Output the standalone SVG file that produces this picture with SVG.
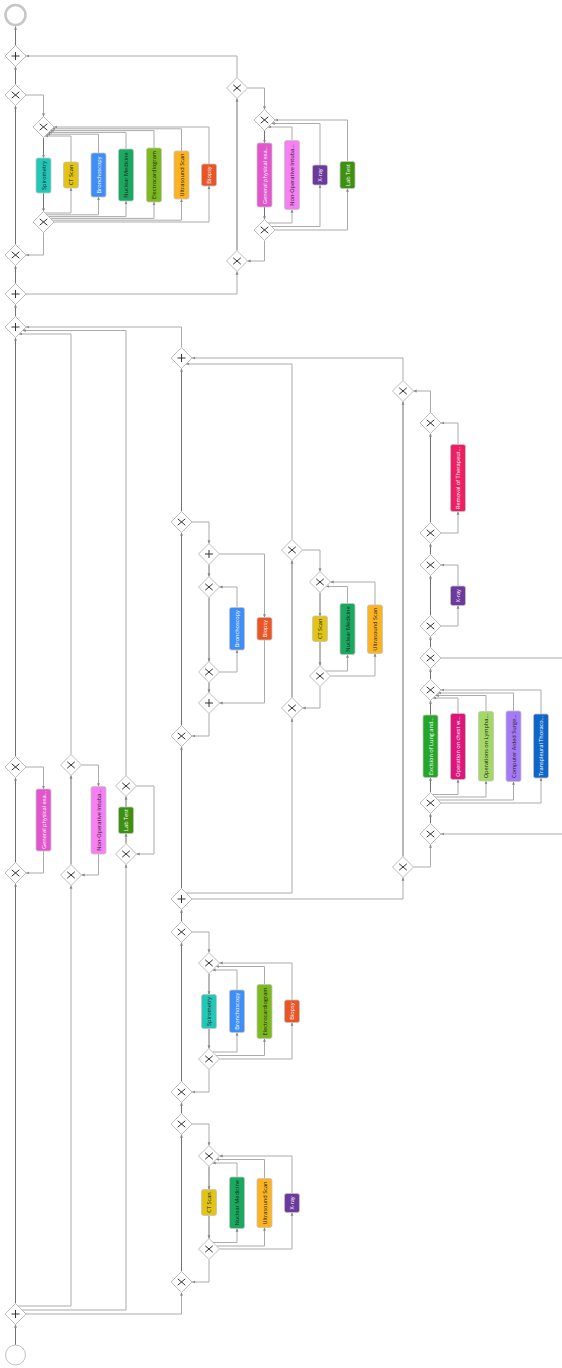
<svg xmlns="http://www.w3.org/2000/svg" xmlns:xlink="http://www.w3.org/1999/xlink" width="562" height="1368" viewBox="0 0 562 1368">
<style>
.f{fill:none;stroke:#727272;stroke-width:1;marker-end:url(#ar)}
.fl{fill:none;stroke:#ababab;stroke-width:1;marker-end:url(#ar)}
.fo{fill:none;stroke:#ababab;stroke-width:1}
.gd{fill:#fff;stroke:#bdbdbd;stroke-width:1}
.gm{fill:none;stroke:#333333;stroke-width:1}
.tk{stroke:#c4c4c4;stroke-width:0.8}
.lb{font-family:"Open Sans","Liberation Sans",sans-serif;font-size:5.6px;text-anchor:middle;dominant-baseline:central}
.w{fill:#ffffff}
.d{fill:#222222}
</style>
<defs>
<marker id="ar" viewBox="0 0 6 6" refX="5.5" refY="3" markerWidth="3.5" markerHeight="3.5" orient="auto" markerUnits="userSpaceOnUse"><path d="M0,0.5 L6,3 L0,5.5 z" fill="#8a8a8a"/></marker>
<g id="gx"><polygon class="gd" points="0,-10.5 10.5,0 0,10.5 -10.5,0"/><path class="gm" d="M-3.8,-3.2 L3.8,3.2 M3.8,-3.2 L-3.8,3.2"/></g>
<g id="gp"><polygon class="gd" points="0,-10.5 10.5,0 0,10.5 -10.5,0"/><path class="gm" d="M0,-4 V4 M-4,0 H4" stroke-width="1.2"/></g>
</defs>
<rect width="562" height="1368" fill="#fff"/>
<g id="connectors">
<path class="f" d="M15.5,1345 V1324.5"/>
<path class="f" d="M15.5,1303.5 V883.5"/>
<path class="f" d="M15.5,862.5 V777.5"/>
<path class="f" d="M15.5,756.5 V337.5"/>
<path class="f" d="M15.5,316.5 V304.5"/>
<path class="f" d="M15.5,283.5 V265.5"/>
<path class="f" d="M15.5,244.5 V105.5"/>
<path class="f" d="M15.5,84.5 V66.5"/>
<path class="f" d="M15.5,45.5 V26.5"/>
<path class="fl" d="M26,767 H43.5 V789"/>
<path class="fl" d="M43.5,851 V873 H26"/>
<path class="fl" d="M18,1306 H71 V885.5"/>
<path class="fl" d="M22,1310 H126 V864.5"/>
<path class="fl" d="M26,1314 H181.5 V1292.5"/>
<path class="f" d="M71,864.5 V775.5"/>
<path class="fl" d="M81.5,765 H98.5 V786.5"/>
<path class="fl" d="M98.5,854 V875 H81.5"/>
<path class="fl" d="M71,754.5 V334 H19"/>
<path class="f" d="M126,843.5 V833.5"/>
<path class="f" d="M126,807 V796.5"/>
<path class="fl" d="M136.5,786 H154 V854 H136.5"/>
<path class="fl" d="M126,775.5 V330.5 H22.5"/>
<path class="fl" d="M26,95 H43.5 V116.5"/>
<path class="f" d="M43.5,137.5 V158"/>
<path class="f" d="M43.5,193 V211.5"/>
<path class="fl" d="M43.5,232.5 V255 H26"/>
<path class="fl" d="M45,213 H71 V188"/><path class="fl" d="M71,162 V136 H45"/>
<path class="fl" d="M46.8,214.8 H98.5 V197"/><path class="fl" d="M98.5,153 V134.2 H46.8"/>
<path class="fl" d="M48.6,216.6 H126 V201"/><path class="fl" d="M126,149 V132.4 H48.6"/>
<path class="fl" d="M50.4,218.4 H154 V202"/><path class="fl" d="M154,148 V130.6 H50.4"/>
<path class="fl" d="M52.2,220.2 H181.5 V199"/><path class="fl" d="M181.5,151 V128.8 H52.2"/>
<path class="fl" d="M54,222 H209 V186"/><path class="fl" d="M209,164 V127 H54"/>
<path class="fl" d="M26,294 H237 V271.5"/>
<path class="f" d="M237,250.5 V98.5"/>
<path class="fl" d="M237,77.5 V56 H26"/>
<path class="fl" d="M247.5,88 H264.5 V109.5"/>
<path class="f" d="M264.5,130.5 V143"/>
<path class="f" d="M264.5,207 V219.5"/>
<path class="fl" d="M264.5,240.5 V261 H247.5"/>
<path class="fl" d="M268,223 H292 V209.5"/><path class="fl" d="M292,140.5 V127 H268"/>
<path class="fl" d="M271.5,226.5 H320 V185"/><path class="fl" d="M320,165 V123.5 H271.5"/>
<path class="fl" d="M275,230 H347.5 V188.5"/><path class="fl" d="M347.5,161.5 V120 H275"/>
<path class="fl" d="M181.5,347.5 V327 H26"/>
<path class="f" d="M181.5,511.5 V368.5"/>
<path class="f" d="M181.5,725.5 V532.5"/>
<path class="f" d="M181.5,888.5 V746.5"/>
<path class="f" d="M181.5,921.5 V909.5"/>
<path class="f" d="M181.5,1081.5 V942.5"/>
<path class="f" d="M181.5,1113.5 V1102.5"/>
<path class="f" d="M181.5,1271.5 V1134.5"/>
<path class="fl" d="M192,522 H209 V543.5"/>
<path class="f" d="M209,564.5 V576.5"/>
<path class="f" d="M209,597.5 V661.5"/>
<path class="f" d="M209,682.5 V692.5"/>
<path class="fl" d="M209,713.5 V736 H192"/>
<path class="fl" d="M219.5,672 H237 V650"/>
<path class="fl" d="M237,607.5 V587 H219.5"/>
<path class="fl" d="M219.5,554 H264.5 V617.5"/>
<path class="fl" d="M264.5,640 V703 H219.5"/>
<path class="fl" d="M186,893 H292 V718.5"/>
<path class="f" d="M292,697.5 V560.5"/>
<path class="fl" d="M292,539.5 V364 H186"/>
<path class="fl" d="M302.5,550 H320 V571.5"/>
<path class="f" d="M320,592.5 V616"/>
<path class="f" d="M320,641.5 V665.5"/>
<path class="fl" d="M320,686.5 V708 H302.5"/>
<path class="fl" d="M325.5,671 H347.5 V654.5"/><path class="fl" d="M347.5,603.5 V586.5 H326"/>
<path class="fl" d="M330.5,676 H375 V653.5"/><path class="fl" d="M375,605 V582 H330.5"/>
<path class="fl" d="M192,899 H403 V877.5"/>
<path class="f" d="M403,856.5 V401.5"/>
<path class="fl" d="M403,380.5 V358 H192"/>
<path class="fl" d="M413.5,867 H430.5 V844.5"/>
<path class="f" d="M430.5,823.5 V813.5"/>
<path class="f" d="M430.5,792.5 V777.5"/>
<path class="f" d="M430.5,715 V700.5"/>
<path class="f" d="M430.5,679.5 V668.5"/>
<path class="fo" d="M441,658 H562"/>
<path class="fl" d="M562,834 H441"/>
<path class="f" d="M430.5,647.5 V636.5"/>
<path class="f" d="M430.5,615.5 V575.5"/>
<path class="fl" d="M441,626 H458 V605.5"/>
<path class="fl" d="M458,586 V565 H441"/>
<path class="f" d="M430.5,554.5 V543.5"/>
<path class="f" d="M430.5,522.5 V433.5"/>
<path class="fl" d="M441,533 H458 V511.5"/>
<path class="fl" d="M458,444.5 V423 H441"/>
<path class="fl" d="M430.5,412.5 V391 H413.5"/>
<path class="fl" d="M432.5,794.5 H458 V779.5"/><path class="fl" d="M458,713.5 V698 H433"/>
<path class="fl" d="M435,797 H486 V781"/><path class="fl" d="M486,711.5 V695.5 H435.5"/>
<path class="fl" d="M438,800 H513.5 V781.5"/><path class="fl" d="M513.5,711 V693 H438"/>
<path class="fl" d="M441,803 H541 V778"/><path class="fl" d="M541,714 V690 H441"/>
<path class="fl" d="M192,932 H209 V952.5"/>
<path class="f" d="M209,973.5 V994.5"/>
<path class="f" d="M209,1028.5 V1048.5"/>
<path class="fl" d="M209,1069.5 V1092 H192"/>
<path class="fl" d="M212.5,1052 H237 V1032.5"/><path class="fl" d="M237,990 V970 H212.5"/>
<path class="fl" d="M216,1055.5 H264.5 V1038.5"/><path class="fl" d="M264.5,984.5 V966.5 H216"/>
<path class="fl" d="M219.5,1059 H292 V1022.5"/><path class="fl" d="M292,1000 V963 H219.5"/>
<path class="fl" d="M192,1124 H209 V1145.5"/>
<path class="f" d="M209,1166.5 V1189.5"/>
<path class="f" d="M209,1215.5 V1238.5"/>
<path class="fl" d="M209,1259.5 V1282 H192"/>
<path class="fl" d="M213,1242.5 H237 V1228.5"/><path class="fl" d="M237,1177 V1163 H212.5"/>
<path class="fl" d="M216.5,1246 H264.5 V1227.5"/><path class="fl" d="M264.5,1178.5 V1159.5 H216"/>
<path class="fl" d="M219.5,1249 H292 V1212.5"/><path class="fl" d="M292,1193.5 V1156 H219.5"/>
</g>
<g id="end"><circle cx="15.5" cy="15" r="10" fill="#fff" stroke="#c6c6c6" stroke-width="2.6"/></g>
<g id="start"><circle cx="15.5" cy="1355" r="10" fill="#fff" stroke="#c0c0c0" stroke-width="1"/></g>
<g id="P1"><use xlink:href="#gp" x="15.5" y="56"/></g>
<g id="X1"><use xlink:href="#gx" x="15.5" y="95"/></g>
<g id="X2"><use xlink:href="#gx" x="15.5" y="255"/></g>
<g id="P2"><use xlink:href="#gp" x="15.5" y="294"/></g>
<g id="P3"><use xlink:href="#gp" x="15.5" y="327"/></g>
<g id="X3"><use xlink:href="#gx" x="15.5" y="767"/></g>
<g id="X4"><use xlink:href="#gx" x="15.5" y="873"/></g>
<g id="P4"><use xlink:href="#gp" x="15.5" y="1314"/></g>
<g id="X5"><use xlink:href="#gx" x="43.5" y="127"/></g>
<g id="X6"><use xlink:href="#gx" x="43.5" y="222"/></g>
<g id="X7"><use xlink:href="#gx" x="237" y="261"/></g>
<g id="X8"><use xlink:href="#gx" x="237" y="88"/></g>
<g id="X9"><use xlink:href="#gx" x="264.5" y="120"/></g>
<g id="X10"><use xlink:href="#gx" x="264.5" y="230"/></g>
<g id="X11"><use xlink:href="#gx" x="71" y="765"/></g>
<g id="X12"><use xlink:href="#gx" x="71" y="875"/></g>
<g id="X13"><use xlink:href="#gx" x="126" y="786"/></g>
<g id="X14"><use xlink:href="#gx" x="126" y="854"/></g>
<g id="P5"><use xlink:href="#gp" x="181.5" y="358"/></g>
<g id="X15"><use xlink:href="#gx" x="181.5" y="522"/></g>
<g id="X16"><use xlink:href="#gx" x="181.5" y="736"/></g>
<g id="P6"><use xlink:href="#gp" x="181.5" y="899"/></g>
<g id="X17"><use xlink:href="#gx" x="181.5" y="932"/></g>
<g id="X18"><use xlink:href="#gx" x="181.5" y="1092"/></g>
<g id="X19"><use xlink:href="#gx" x="181.5" y="1124"/></g>
<g id="X20"><use xlink:href="#gx" x="181.5" y="1282"/></g>
<g id="P7"><use xlink:href="#gp" x="209" y="554"/></g>
<g id="X25"><use xlink:href="#gx" x="209" y="587"/></g>
<g id="X26"><use xlink:href="#gx" x="209" y="672"/></g>
<g id="P8"><use xlink:href="#gp" x="209" y="703"/></g>
<g id="X27"><use xlink:href="#gx" x="292" y="550"/></g>
<g id="X28"><use xlink:href="#gx" x="292" y="708"/></g>
<g id="X29"><use xlink:href="#gx" x="320" y="582"/></g>
<g id="X30"><use xlink:href="#gx" x="320" y="676"/></g>
<g id="X32"><use xlink:href="#gx" x="403" y="391"/></g>
<g id="X31"><use xlink:href="#gx" x="403" y="867"/></g>
<g id="X33"><use xlink:href="#gx" x="430.5" y="834"/></g>
<g id="X34"><use xlink:href="#gx" x="430.5" y="803"/></g>
<g id="X35"><use xlink:href="#gx" x="430.5" y="690"/></g>
<g id="X36"><use xlink:href="#gx" x="430.5" y="658"/></g>
<g id="X37"><use xlink:href="#gx" x="430.5" y="626"/></g>
<g id="X38"><use xlink:href="#gx" x="430.5" y="565"/></g>
<g id="X39"><use xlink:href="#gx" x="430.5" y="533"/></g>
<g id="X40"><use xlink:href="#gx" x="430.5" y="423"/></g>
<g id="X23"><use xlink:href="#gx" x="209" y="963"/></g>
<g id="X24"><use xlink:href="#gx" x="209" y="1059"/></g>
<g id="X21"><use xlink:href="#gx" x="209" y="1156"/></g>
<g id="X22"><use xlink:href="#gx" x="209" y="1249"/></g>
<g id="t1"><rect class="tk" x="36" y="158" width="15" height="35" rx="2" fill="#22c7b8"/><text class="lb d" transform="translate(43.5,175.5) rotate(-90)">Spirometry</text></g>
<g id="t2"><rect class="tk" x="63.5" y="162" width="15" height="26" rx="2" fill="#e2c416"/><text class="lb d" transform="translate(71,175) rotate(-90)">CT Scan</text></g>
<g id="t3"><rect class="tk" x="91" y="153" width="15" height="44" rx="2" fill="#3f8ef5"/><text class="lb w" transform="translate(98.5,175) rotate(-90)">Bronchoscopy</text></g>
<g id="t4"><rect class="tk" x="118.5" y="149" width="15" height="52" rx="2" fill="#1aaa5f"/><text class="lb d" transform="translate(126,175) rotate(-90)">Nuclear Medicine</text></g>
<g id="t5"><rect class="tk" x="146.5" y="148" width="15" height="54" rx="2" fill="#7cba1e"/><text class="lb d" transform="translate(154,175) rotate(-90)">Electrocardiogram</text></g>
<g id="t6"><rect class="tk" x="174" y="151" width="15" height="48" rx="2" fill="#fbb322"/><text class="lb d" transform="translate(181.5,175) rotate(-90)">Ultrasound Scan</text></g>
<g id="t7"><rect class="tk" x="201.5" y="164" width="15" height="22" rx="2" fill="#ea5526"/><text class="lb w" transform="translate(209,175) rotate(-90)">Biopsy</text></g>
<g id="t8"><rect class="tk" x="257" y="143" width="15" height="64" rx="2" fill="#e255cc"/><text class="lb w" transform="translate(264.5,175) rotate(-90)">General physical exa...</text></g>
<g id="t9"><rect class="tk" x="284.5" y="140.5" width="15" height="69" rx="2" fill="#f67ff3"/><text class="lb d" transform="translate(292,175) rotate(-90)">Non-Operative Intuba...</text></g>
<g id="t10"><rect class="tk" x="312.5" y="165" width="15" height="20" rx="2" fill="#6c3a9c"/><text class="lb w" transform="translate(320,175) rotate(-90)">X-ray</text></g>
<g id="t11"><rect class="tk" x="340" y="161.5" width="15" height="27" rx="2" fill="#3e9110"/><text class="lb w" transform="translate(347.5,175) rotate(-90)">Lab Test</text></g>
<g id="t12"><rect class="tk" x="36" y="789" width="15" height="62" rx="2" fill="#e255cc"/><text class="lb w" transform="translate(43.5,820) rotate(-90)">General physical exa...</text></g>
<g id="t13"><rect class="tk" x="91" y="786.5" width="15" height="67.5" rx="2" fill="#f67ff3"/><text class="lb d" transform="translate(98.5,820) rotate(-90)">Non-Operative Intuba...</text></g>
<g id="t14"><rect class="tk" x="118.5" y="807" width="15" height="26.5" rx="2" fill="#3e9110"/><text class="lb w" transform="translate(126,820) rotate(-90)">Lab Test</text></g>
<g id="t15"><rect class="tk" x="229.5" y="607.5" width="15" height="42.5" rx="2" fill="#3f8ef5"/><text class="lb w" transform="translate(237,628.7) rotate(-90)">Bronchoscopy</text></g>
<g id="t16"><rect class="tk" x="257" y="617.5" width="15" height="22.5" rx="2" fill="#ea5526"/><text class="lb w" transform="translate(264.5,628.7) rotate(-90)">Biopsy</text></g>
<g id="t17"><rect class="tk" x="312.5" y="616" width="15" height="25.5" rx="2" fill="#e2c416"/><text class="lb d" transform="translate(320,628.8) rotate(-90)">CT Scan</text></g>
<g id="t18"><rect class="tk" x="340" y="603.5" width="15" height="51" rx="2" fill="#1aaa5f"/><text class="lb d" transform="translate(347.5,629) rotate(-90)">Nuclear Medicine</text></g>
<g id="t19"><rect class="tk" x="367.5" y="605" width="15" height="48.5" rx="2" fill="#fbb322"/><text class="lb d" transform="translate(375,629.2) rotate(-90)">Ultrasound Scan</text></g>
<g id="t20"><rect class="tk" x="450.5" y="444.5" width="15" height="67" rx="2" fill="#ec1f63"/><text class="lb w" transform="translate(458,478) rotate(-90)">Removal of Therapeut...</text></g>
<g id="t21"><rect class="tk" x="450.5" y="586" width="15" height="19.5" rx="2" fill="#6c3a9c"/><text class="lb w" transform="translate(458,595.7) rotate(-90)">X-ray</text></g>
<g id="t22"><rect class="tk" x="423" y="715" width="15" height="62.5" rx="2" fill="#25a62b"/><text class="lb w" transform="translate(430.5,746.2) rotate(-90)">Excision of Lung and...</text></g>
<g id="t23"><rect class="tk" x="450.5" y="713.5" width="15" height="66" rx="2" fill="#e0157b"/><text class="lb w" transform="translate(458,746.5) rotate(-90)">Operation on chest w...</text></g>
<g id="t24"><rect class="tk" x="478.5" y="711.5" width="15" height="69.5" rx="2" fill="#a4d866"/><text class="lb d" transform="translate(486,746.2) rotate(-90)">Operations on Lympha...</text></g>
<g id="t25"><rect class="tk" x="506" y="711" width="15" height="70.5" rx="2" fill="#a57af7"/><text class="lb d" transform="translate(513.5,746.2) rotate(-90)">Computer Aided Surge...</text></g>
<g id="t26"><rect class="tk" x="533.5" y="714" width="15" height="64" rx="2" fill="#0f66c8"/><text class="lb w" transform="translate(541,746) rotate(-90)">Transpleural Thoraco...</text></g>
<g id="t27"><rect class="tk" x="201.5" y="994.5" width="15" height="34" rx="2" fill="#22c7b8"/><text class="lb d" transform="translate(209,1011.5) rotate(-90)">Spirometry</text></g>
<g id="t28"><rect class="tk" x="229.5" y="990" width="15" height="42.5" rx="2" fill="#3f8ef5"/><text class="lb w" transform="translate(237,1011.2) rotate(-90)">Bronchoscopy</text></g>
<g id="t29"><rect class="tk" x="257" y="984.5" width="15" height="54" rx="2" fill="#7cba1e"/><text class="lb d" transform="translate(264.5,1011.5) rotate(-90)">Electrocardiogram</text></g>
<g id="t30"><rect class="tk" x="284.5" y="1000" width="15" height="22.5" rx="2" fill="#ea5526"/><text class="lb w" transform="translate(292,1011.2) rotate(-90)">Biopsy</text></g>
<g id="t31"><rect class="tk" x="201.5" y="1189.5" width="15" height="26" rx="2" fill="#e2c416"/><text class="lb d" transform="translate(209,1202.5) rotate(-90)">CT Scan</text></g>
<g id="t32"><rect class="tk" x="229.5" y="1177" width="15" height="51.5" rx="2" fill="#1aaa5f"/><text class="lb d" transform="translate(237,1202.7) rotate(-90)">Nuclear Medicine</text></g>
<g id="t33"><rect class="tk" x="257" y="1178.5" width="15" height="49" rx="2" fill="#fbb322"/><text class="lb d" transform="translate(264.5,1203) rotate(-90)">Ultrasound Scan</text></g>
<g id="t34"><rect class="tk" x="284.5" y="1193.5" width="15" height="19" rx="2" fill="#6c3a9c"/><text class="lb w" transform="translate(292,1203) rotate(-90)">X-ray</text></g>
</svg>
